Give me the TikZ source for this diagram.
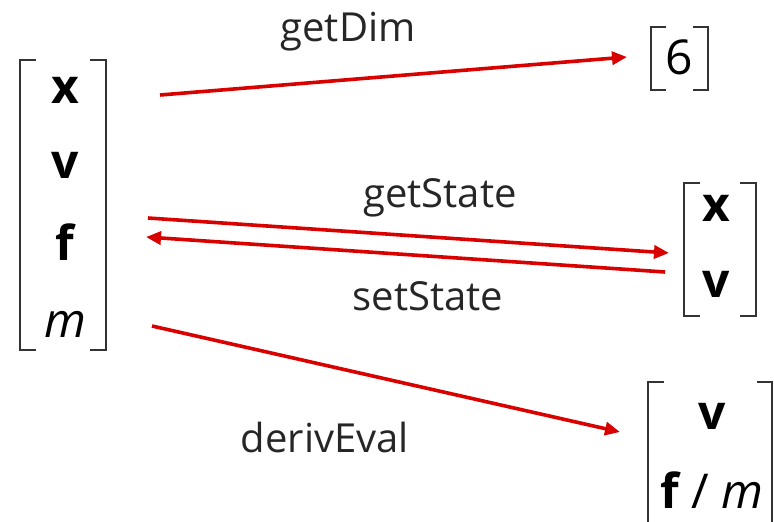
\documentclass[tikz,border=0pt]{standalone}
\usepackage{fontspec}
\setmainfont{Open Sans}
\usepackage{tikz}
\usetikzlibrary{positioning,arrows.meta}

\begin{document}
\begin{tikzpicture}[x=1pt, y=-1pt,
    entry/.style={font=\fontsize{48}{48}\selectfont, inner sep=0pt},
    fnlabel/.style={font=\fontsize{40}{40}\selectfont, text=black!85, inner sep=0pt},
    bracket/.style={draw=black!80, line width=1.6pt},
    call/.style={-{Triangle[length=15pt,width=13pt]}, draw=red!85!black, line width=3.6pt}
    ]
        \useasboundingbox (0,0) rectangle (774,522);

        %Nodes
        \node[entry] (lx) at (65,90)  {\bfseries x};
        \node[entry] (lv) at (65,165) {\bfseries v};
        \node[entry] (lf) at (65,242) {\bfseries f};
        \node[entry] (lm) at (65,324) {\itshape m};

        \node[entry] (dim) at (679,57) {6};

        \node[entry] (sx) at (716,208) {\bfseries x};
        \node[entry] (sv) at (716,284) {\bfseries v};

        \node[entry] (dv) at (712,416) {\bfseries v};
        \node[entry] (dfm) at (712,490) {{\bfseries f} / \itshape m};

        %Brackets
        \draw[bracket] (36,60) -| (20,350) -- (36,350);
        \draw[bracket] (90,60) -| (106,350) -- (90,350);
        \draw[bracket] (666,27) -| (651,90) -- (666,90);
        \draw[bracket] (693,27) -| (708,90) -- (693,90);
        \draw[bracket] (700,183) -| (684,316) -- (700,316);
        \draw[bracket] (740,183) -| (756,316) -- (740,316);
        \draw[bracket] (664,382) -| (648,530);
        \draw[bracket] (757,382) -| (772,530);

        %Ends
        \coordinate (dimS) at (160,95);
        \coordinate (dimE) at (627,57);
        \coordinate (getS) at (148,218);
        \coordinate (getE) at (669,253);
        \coordinate (setS) at (665,272);
        \coordinate (setE) at (146,237);
        \coordinate (derS) at (152,326);
        \coordinate (derE) at (620,432);

        %Lines
        \draw[call] (dimS) -- (dimE);
        \draw[call] (getS) -- (getE);
        \draw[call] (setS) -- (setE);
        \draw[call] (derS) -- (derE);

        %Labels
        \node[fnlabel] (getDim)    at (348,32)  {getDim};
        \node[fnlabel] (getState)  at (440,198) {getState};
        \node[fnlabel] (setState)  at (428,296) {setState};
        \node[fnlabel] (derivEval) at (325,437) {derivEval};
    \end{tikzpicture}
\end{document}
